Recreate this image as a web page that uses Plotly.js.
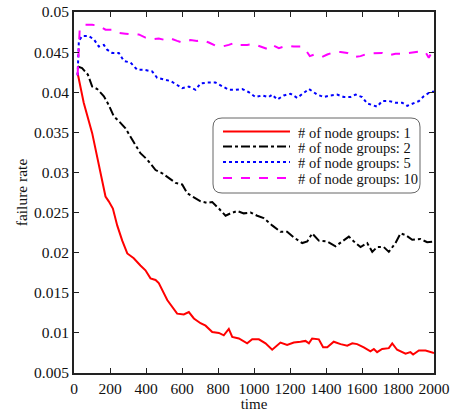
<!DOCTYPE html>
<html>
<head>
<meta charset="utf-8">
<script src="https://cdn.plot.ly/plotly-3.0.1.min.js"></script>
<style>html,body{margin:0;padding:0;background:#fff;}#chart{width:454px;height:412px;}</style>
</head>
<body>
<div id="chart"></div>
<script>
// ---- data ----
const seriesNames = ["# of node groups: 1", "# of node groups: 2", "# of node groups: 5", "# of node groups: 10"];

const t1 = [20,54,101,140,175,193,216,240,268,296,332,369,397,425,453,471,518,573,610,638,666,703,731,768,805,832,860,879,916,962,990,1027,1064,1101,1147,1184,1221,1258,1286,1305,1323,1360,1384,1407,1443,1481,1518,1546,1573,1610,1647,1666,1684,1712,1749,1768,1795,1842,1869,1884,1916,1953,2000];
const v1 = [0.0424,0.0387,0.0349,0.0307,0.0270,0.0264,0.0255,0.0234,0.0215,0.0199,0.0193,0.0184,0.0178,0.0168,0.0166,0.0162,0.0141,0.0124,0.0123,0.0126,0.0118,0.0112,0.0109,0.0101,0.0100,0.0097,0.0105,0.0095,0.0093,0.0087,0.0092,0.0092,0.0087,0.0079,0.0088,0.0085,0.0088,0.0089,0.0090,0.0087,0.0093,0.0092,0.0082,0.0082,0.0089,0.0086,0.0084,0.0087,0.0086,0.0082,0.0077,0.0080,0.0076,0.0080,0.0081,0.0087,0.0079,0.0074,0.0076,0.0073,0.0078,0.0078,0.0075];

const t2 = [20,45,77,101,129,166,193,221,249,286,323,369,407,453,490,527,564,601,629,666,703,740,768,805,842,869,907,943,981,1018,1054,1101,1147,1184,1221,1268,1296,1323,1360,1407,1453,1490,1527,1555,1592,1629,1657,1684,1721,1749,1786,1814,1842,1879,1925,1962,2000];
const v2 = [0.0432,0.0430,0.0422,0.0407,0.0404,0.0395,0.0384,0.0370,0.0364,0.0355,0.0341,0.0324,0.0316,0.0303,0.0299,0.0293,0.0287,0.0285,0.0274,0.0269,0.0264,0.0262,0.0263,0.0255,0.0246,0.0249,0.0252,0.0249,0.0250,0.0246,0.0243,0.0234,0.0226,0.0226,0.0219,0.0212,0.0214,0.0224,0.0215,0.0214,0.0208,0.0214,0.0220,0.0214,0.0207,0.0212,0.0201,0.0207,0.0207,0.0201,0.0212,0.0224,0.0222,0.0216,0.0217,0.0213,0.0214];

const t5 = [20,27,45,82,110,138,166,184,212,249,277,314,351,388,434,462,499,536,573,601,638,675,703,740,786,823,860,897,934,971,1008,1046,1082,1101,1129,1166,1203,1240,1277,1305,1332,1351,1388,1425,1462,1499,1536,1564,1601,1629,1657,1684,1712,1749,1786,1823,1851,1888,1916,1943,1971,2000];
const v5 = [0.0421,0.0464,0.0470,0.0470,0.0466,0.0457,0.0459,0.0453,0.0449,0.0449,0.0439,0.0437,0.0428,0.0428,0.0426,0.0418,0.0416,0.0414,0.0409,0.0405,0.0407,0.0403,0.0411,0.0412,0.0412,0.0408,0.0403,0.0403,0.0404,0.0400,0.0394,0.0396,0.0394,0.0397,0.0391,0.0396,0.0398,0.0393,0.0399,0.0404,0.0400,0.0397,0.0394,0.0396,0.0397,0.0394,0.0394,0.0397,0.0394,0.0386,0.0384,0.0382,0.0389,0.0389,0.0387,0.0387,0.0383,0.0387,0.0389,0.0395,0.0399,0.0401];

const t10 = [20,32,64,101,138,175,212,249,286,323,360,397,434,471,508,536,573,601,647,684,712,749,786,823,860,897,925,962,999,1036,1073,1101,1138,1184,1221,1258,1286,1310,1336,1351,1379,1407,1443,1481,1518,1555,1592,1629,1675,1712,1749,1786,1823,1860,1897,1934,1953,1971,1990,2000];
const v10 = [0.0421,0.0480,0.0484,0.0484,0.0483,0.0478,0.0478,0.0474,0.0473,0.0472,0.0472,0.0468,0.0466,0.0467,0.0465,0.0467,0.0464,0.0462,0.0465,0.0464,0.0465,0.0462,0.0458,0.0457,0.0459,0.0462,0.0459,0.0459,0.0460,0.0457,0.0454,0.0459,0.0455,0.0458,0.0457,0.0457,0.0453,0.0445,0.0447,0.0446,0.0444,0.0447,0.0450,0.0450,0.0449,0.0444,0.0445,0.0448,0.0449,0.0449,0.0446,0.0448,0.0448,0.0449,0.0450,0.0451,0.0450,0.0443,0.0451,0.0449];

const xTickVals = [0,200,400,600,800,1000,1200,1400,1600,1800,2000];
const yTickVals = [0.005,0.01,0.015,0.02,0.025,0.03,0.035,0.04,0.045,0.05];
const yTickText = ["0.005","0.01","0.015","0.02","0.025","0.03","0.035","0.04","0.045","0.05"];

// ---- styles ----
const colors = ["#ff0000", "#000000", "#0000ff", "#ff00ff"];
const dashes = ["solid", "dashdot", "dot", "dash"];
const xs = [t1, t2, t5, t10];
const ys = [v1, v2, v5, v10];

const traces = xs.map((x, i) => ({
  x: x, y: ys[i], type: "scatter", mode: "lines", name: seriesNames[i],
  line: {color: colors[i], width: 2, dash: dashes[i]}, showlegend: false
}));

// plot area in pixels
const L = 74, R = 434, T = 12, B = 373;
const px = x => (x - L) / (R - L);
const py = y => (B - y) / (B - T);

// legend box (rounded) drawn as shape
const bx0 = 213, bx1 = 420, by0 = 118, by1 = 193, rr = 9;
const rx = rr / (R - L), ry = rr / (B - T);
const X0 = px(bx0), X1 = px(bx1), Y0 = py(by1), Y1 = py(by0);
const boxPath = `M${X0+rx},${Y0} L${X1-rx},${Y0} Q${X1},${Y0} ${X1},${Y0+ry} L${X1},${Y1-ry} Q${X1},${Y1} ${X1-rx},${Y1} L${X0+rx},${Y1} Q${X0},${Y1} ${X0},${Y1-ry} L${X0},${Y0+ry} Q${X0},${Y0} ${X0+rx},${Y0} Z`;

const shapes = [{type: "path", xref: "paper", yref: "paper", path: boxPath,
  line: {color: "#666", width: 1}, fillcolor: "rgba(255,255,255,1)"}];
const annotations = [];
const rowY = [131.5, 146.5, 162, 178];
seriesNames.forEach((n, i) => {
  shapes.push({type: "line", xref: "paper", yref: "paper",
    x0: px(223), x1: px(290), y0: py(rowY[i]), y1: py(rowY[i]),
    line: {color: colors[i], width: 2, dash: dashes[i]}});
  annotations.push({xref: "paper", yref: "paper", x: px(296), y: py(rowY[i] + 1),
    xanchor: "left", yanchor: "middle", text: n, showarrow: false,
    font: {family: "Liberation Serif, serif", size: 14.5, color: "#111"}});
});

const axisCommon = {
  showline: true, linecolor: "#222", linewidth: 2, mirror: "ticks",
  ticks: "inside", ticklen: 5, tickwidth: 1, tickcolor: "#222",
  showgrid: false, zeroline: false,
  tickfont: {family: "Liberation Serif, serif", size: 15.5, color: "#111"}
};

const layout = {
  width: 454, height: 412,
  margin: {l: L, r: 454 - R, t: T, b: 412 - B},
  paper_bgcolor: "#fff", plot_bgcolor: "#fff",
  xaxis: Object.assign({}, axisCommon, {
    range: [0, 2000], tickvals: xTickVals,
    title: {text: "time", font: {family: "Liberation Serif, serif", size: 15, color: "#111"}, standoff: 6}
  }),
  yaxis: Object.assign({}, axisCommon, {
    range: [0.005, 0.05], tickvals: yTickVals, ticktext: yTickText,
    title: {text: "failure rate", font: {family: "Liberation Serif, serif", size: 15.5, color: "#111"}, standoff: 3}
  }),
  shapes: shapes, annotations: annotations, showlegend: false
};

Plotly.newPlot("chart", traces, layout, {displayModeBar: false, staticPlot: true});
</script>
</body>
</html>
